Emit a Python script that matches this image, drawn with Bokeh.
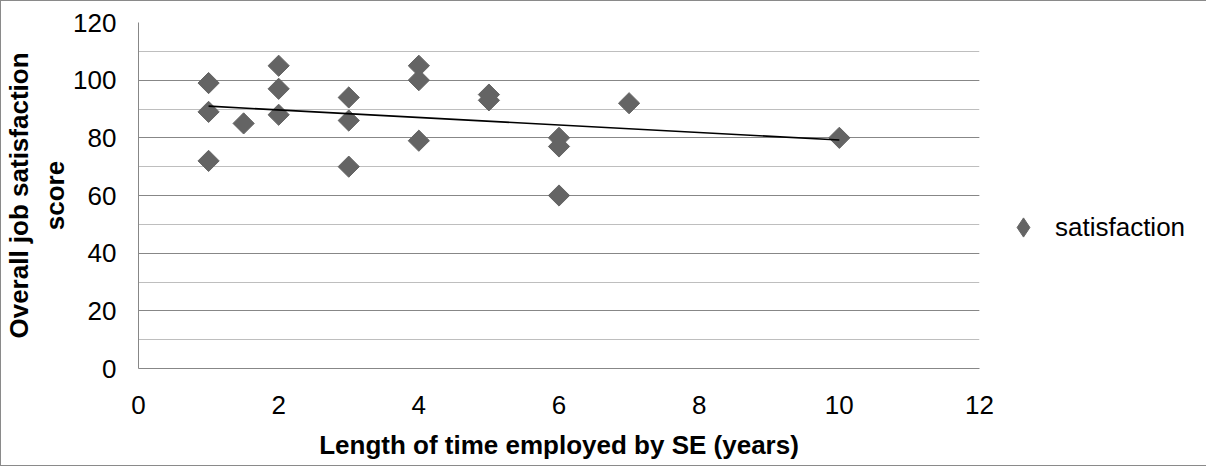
import numpy as np
from bokeh.plotting import figure
from bokeh.models import (Range1d, SingleIntervalTicker, Legend, LegendItem)
from bokeh.embed import file_html
from bokeh.resources import INLINE

# ---- data ----
years = [1, 1, 1, 1.5, 2, 2, 2, 3, 3, 3, 4, 4, 4, 5, 5, 6, 6, 6, 7, 10]
satisfaction = [99, 89, 72, 85, 105, 97, 88, 94, 86, 70, 105, 100, 79, 95, 93, 80, 77, 60, 92, 80]
x_ticks = [0, 2, 4, 6, 8, 10, 12]
y_ticks = [0, 20, 40, 60, 80, 100, 120]
x_title = "Length of time employed by SE (years)"
y_title = "Overall job satisfaction\nscore"
series_name = "satisfaction"

FONT = "Liberation Sans"
MARKER = "#646464"
MAJOR = "#878787"
MINOR = "#bebebe"

W, H = 1202, 464
FL, FT, FW, FH = 135, 21, 841, 346
p = figure(frame_width=FW, frame_height=FH,
           min_border_left=FL, min_border_top=FT,
           min_border_right=W - FL - FW, min_border_bottom=H - FT - FH,
           x_range=Range1d(0, 12), y_range=Range1d(0, 120),
           output_backend="svg", toolbar_location=None,
           background_fill_color="white", border_fill_color="white")
p.styles = {"border": "1px solid #8a8a8a"}
p.outline_line_color = None

# grids
p.xgrid.grid_line_color = None
p.ygrid.ticker = SingleIntervalTicker(interval=20, num_minor_ticks=2)
p.ygrid.grid_line_color = MAJOR
p.ygrid.grid_line_width = 1
p.ygrid.minor_grid_line_color = MINOR
p.ygrid.minor_grid_line_width = 1

# axes
p.xaxis.ticker = x_ticks
p.yaxis.ticker = y_ticks
for ax in (p.xaxis[0], p.yaxis[0]):
    ax.axis_line_color = MAJOR
    ax.axis_line_width = 1
    ax.major_tick_line_color = None
    ax.minor_tick_line_color = None
    ax.major_tick_in = 0
    ax.major_tick_out = 0
    ax.minor_tick_in = 0
    ax.minor_tick_out = 0
    ax.major_label_text_font = FONT
    ax.major_label_text_font_size = "26px"
    ax.major_label_text_color = "black"
    ax.axis_label_text_font = FONT
    ax.axis_label_text_font_size = "26px"
    ax.axis_label_text_font_style = "bold"
    ax.axis_label_text_color = "black"
p.xaxis.major_label_standoff = 27
p.yaxis.major_label_standoff = 22

p.xaxis.axis_label = x_title
p.xaxis.axis_label_standoff = 13
p.yaxis.axis_label = y_title
p.yaxis.axis_label_standoff = 0

# scatter (diamonds = rotated squares)
r = p.scatter(years, satisfaction, marker="square", size=15, angle=np.pi / 4,
              fill_color=MARKER, line_color=MARKER)
# legend swatch: a diamond drawn over the first point (hidden inside it)
r_leg = p.scatter(years[:1], satisfaction[:1], marker="diamond", size=20,
                  fill_color=MARKER, line_color=MARKER)

# linear trendline
xs = np.array(years, dtype=float)
ys = np.array(satisfaction, dtype=float)
m, b = np.polyfit(xs, ys, 1)
tx = [xs.min(), xs.max()]
p.line(tx, [m * tx[0] + b, m * tx[1] + b], line_color="black", line_width=1.6)

# legend
leg = Legend(items=[LegendItem(label=series_name, renderers=[r_leg])],
             location=(20, 117),
             padding=0, margin=0, border_line_color=None,
             background_fill_alpha=0, glyph_width=48, glyph_height=48,
             label_standoff=8, label_text_font=FONT,
             label_text_font_size="26px", label_text_color="black")
p.add_layout(leg, "right")

open("out.html", "w").write(file_html(p, INLINE))
